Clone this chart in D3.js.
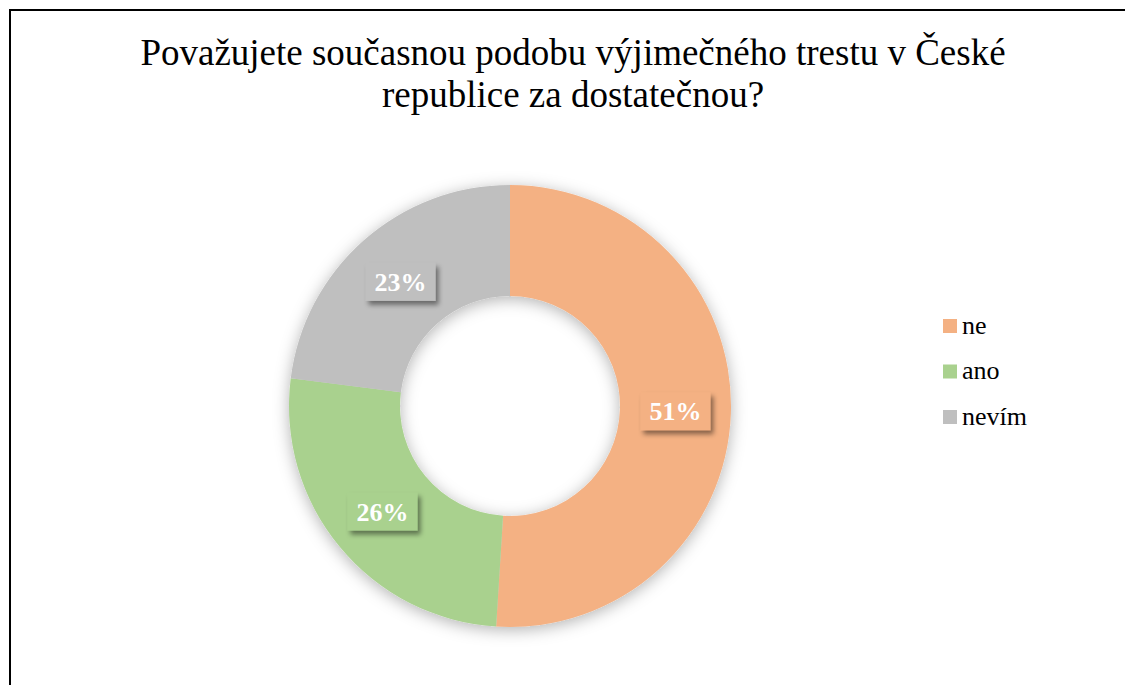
<!DOCTYPE html>
<html>
<head>
<meta charset="utf-8">
<title>donut</title>
<script src="https://d3js.org/d3.v7.min.js"></script>
<style>
  body { margin: 0; background: #fff; }
  svg text { font-family: 'Liberation Serif', 'Times New Roman', serif; }
</style>
</head>
<body>
<div id="chart"></div>
<script>

// data
var categories = ["ne", "ano", "nevím"];
var values = [51, 26, 23];
var colors = ["#F4B183", "#A9D18E", "#BFBFBF"];
var titleLines = ["Považujete současnou podobu výjimečného trestu v České", "republice za dostatečnou?"];

var width = 1125, height = 685;
var cx = 510, cy = 406, outerR = 221, innerR = 110;

var svg = d3.select("#chart").append("svg")
  .attr("width", width)
  .attr("height", height);

var defs = svg.append("defs");
// soft glow around the ring
var glow = defs.append("filter").attr("id", "glow")
  .attr("x", "-20%").attr("y", "-20%").attr("width", "140%").attr("height", "140%");
glow.append("feDropShadow").attr("dx", 0).attr("dy", 3).attr("stdDeviation", 8)
  .attr("flood-color", "#000").attr("flood-opacity", 0.3);

// drop shadow for label boxes
var sh = defs.append("filter").attr("id", "lblshadow")
  .attr("x", "-30%").attr("y", "-30%").attr("width", "160%").attr("height", "160%");
sh.append("feDropShadow").attr("dx", 3).attr("dy", 4).attr("stdDeviation", 2.5)
  .attr("flood-color", "#000").attr("flood-opacity", 0.45);

// frame
svg.append("rect")
  .attr("x", 10).attr("y", 10)
  .attr("width", 1125).attr("height", 700)
  .attr("fill", "none").attr("stroke", "#000").attr("stroke-width", 2);

// title
svg.append("text")
  .attr("x", 573).attr("y", 65)
  .attr("text-anchor", "middle")
  .style("font-size", "37px")
  .selectAll("tspan")
  .data(titleLines)
  .enter().append("tspan")
    .attr("x", 573)
    .attr("dy", function(d, i) { return i === 0 ? 0 : 42; })
    .text(function(d) { return d; });

var color = d3.scaleOrdinal().domain(categories).range(colors);

var pie = d3.pie().sort(null).value(function(d) { return d.value; });
var data_ready = pie(categories.map(function(c, i) { return {key: c, value: values[i]}; }));

var arc = d3.arc().innerRadius(innerR).outerRadius(outerR);

var g = svg.append("g").attr("transform", "translate(" + cx + "," + cy + ")");

g.append("g").attr("filter", "url(#glow)")
  .selectAll("path")
  .data(data_ready)
  .enter().append("path")
    .attr("d", arc)
    .attr("fill", function(d) { return color(d.data.key); });

// labels
var total = d3.sum(values);
var lbl = g.selectAll(".lbl")
  .data(data_ready)
  .enter().append("g")
    .attr("class", "lbl")
    .attr("transform", function(d) {
      var c = arc.centroid(d);
      return "translate(" + c[0] + "," + c[1] + ")";
    });

lbl.append("rect")
  .attr("x", -35).attr("y", -19)
  .attr("width", 70).attr("height", 38)
  .attr("fill", function(d) { return color(d.data.key); })
  .attr("filter", "url(#lblshadow)");

lbl.append("text")
  .attr("text-anchor", "middle")
  .attr("dy", "0.35em")
  .attr("fill", "#fff")
  .style("font-size", "26px")
  .style("font-weight", "bold")
  .text(function(d) { return Math.round(d.data.value / total * 100) + "%"; });

// legend
var legend = svg.append("g").attr("transform", "translate(943,326)");
var item = legend.selectAll("g")
  .data(categories)
  .enter().append("g")
    .attr("transform", function(d, i) { return "translate(0," + (i * 45.5) + ")"; });

item.append("rect")
  .attr("x", 0).attr("y", -7)
  .attr("width", 14).attr("height", 14)
  .attr("fill", function(d) { return color(d); });

item.append("text")
  .attr("x", 19).attr("y", 0)
  .attr("dy", "0.3em")
  .style("font-size", "26px")
  .attr("fill", "#000")
  .text(function(d) { return d; });

</script>
</body>
</html>
